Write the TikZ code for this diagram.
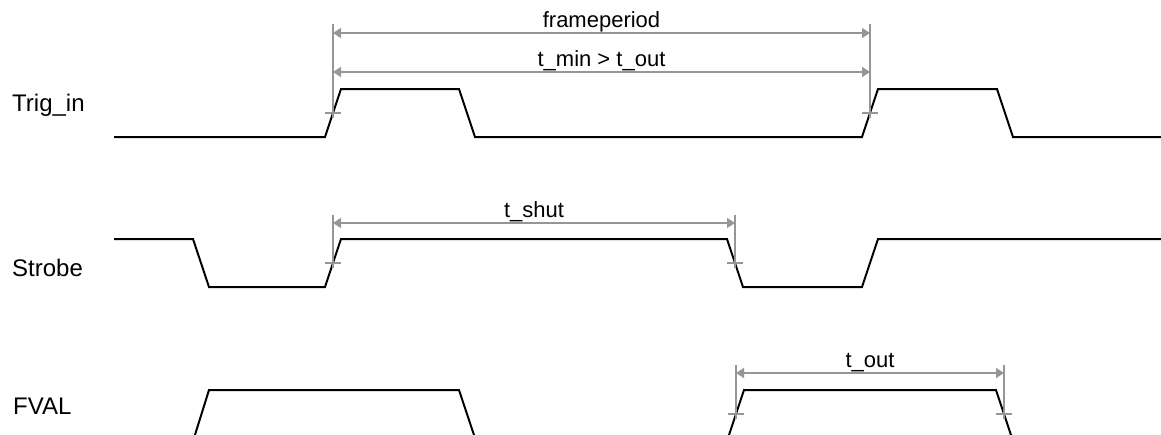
\documentclass[tikz,border=0pt]{standalone}
\usepackage{fontspec}
\setmainfont{Liberation Sans}
\usetikzlibrary{arrows.meta}
\definecolor{dimcol}{RGB}{150,150,150}

\begin{document}
\begin{tikzpicture}[x=1pt, y=-1pt, font=\fontsize{22}{26}\selectfont,
    sig/.style = {draw, line width=2pt},
    ref/.style = {draw=dimcol, line width=1.5pt},
    dim/.style = {ref, {Triangle[length=8pt,width=10pt]}-{Triangle[length=8pt,width=10pt]}},
    signame/.style = {anchor=base west, inner sep=0pt, font=\fontsize{24}{28}\selectfont},
    txt/.style = {anchor=base, inner sep=0pt, yshift=6pt}]
    \useasboundingbox (0,0) rectangle (1161,434);

    % signal names
    \node[signame] (trig) at (12,111) {Trig\_in};
    \node[signame] (strobe) at (12,276) {Strobe};
    \node[signame] (fval) at (13,414) {FVAL};

    % waveforms
    \draw[sig] (114,137) -- (325,137) -- (341,89) -- (459,89) -- (475,137) -- (862,137) -- (878,89) -- (997,89) -- (1013,137) -- (1161,137);
    \draw[sig] (114,239) -- (193,239) -- (209,287) -- (325,287) -- (341,239) -- (727,239) -- (743,287) -- (862,287) -- (878,239) -- (1161,239);
    \draw[sig] (194,438) -- (209,390) -- (459,390) -- (475,438);
    \draw[sig] (728,438) -- (744,390) -- (996,390) -- (1012,438);

    % edge marks
    \coordinate (m1) at (333,113);
    \coordinate (m2) at (870,113);
    \coordinate (m3) at (333,263);
    \coordinate (m4) at (735,263);
    \coordinate (m5) at (736,414);
    \coordinate (m6) at (1004,414);
    \foreach \m/\top in {m1/24, m2/24, m3/215, m4/215, m5/365, m6/365} {
        \draw[ref] (\m |- 0,\top) -- ([yshift=-5pt]\m);
        \draw[ref] ([xshift=-8pt]\m) -- ([xshift=8pt]\m);
    }

    % timings
    \draw[dim] (m1 |- 0,33) -- (m2 |- 0,33) node[midway, txt] (fp) {frameperiod};
    \draw[dim] (m1 |- 0,72) -- (m2 |- 0,72) node[midway, txt] (tmin) {t\_min > t\_out};
    \draw[dim] (m3 |- 0,223) -- (m4 |- 0,223) node[midway, txt] (tshut) {t\_shut};
    \draw[dim] (m5 |- 0,373) -- (m6 |- 0,373) node[midway, txt] (tout) {t\_out};
\end{tikzpicture}
\end{document}
